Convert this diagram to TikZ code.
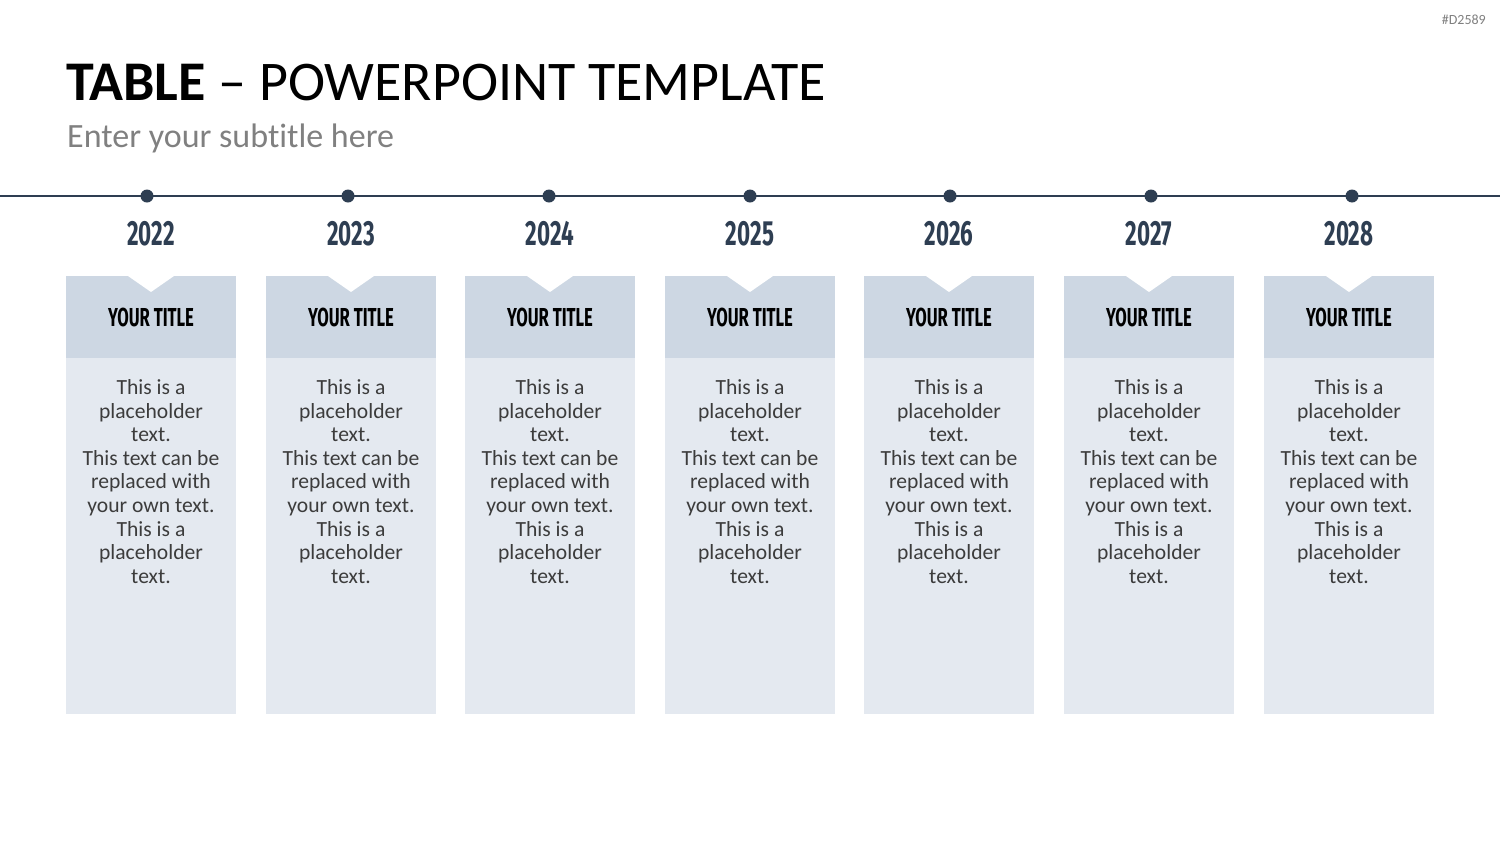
\documentclass[tikz,border=0pt]{standalone}
\usepackage{fontspec}
\setmainfont[Ligatures=NoCommon]{Carlito}
\newfontfamily\condfont[FakeStretch=0.64]{Fira Sans}
\usetikzlibrary{positioning}
\definecolor{slateNavy}{RGB}{46,62,82}
\definecolor{slateHead}{RGB}{205,215,227}
\definecolor{slateBody}{RGB}{228,233,240}
\definecolor{slateText}{RGB}{60,60,60}
\definecolor{slateGray}{RGB}{128,128,128}
\newcommand\bodytext{This is a\\placeholder\\text.\\This text can be\\replaced with\\your own text.\\This is a\\placeholder\\text.}

\begin{document}
\begin{tikzpicture}[
  x=1pt, y=-1pt,
  every node/.style={inner sep=0pt},
  timeline/.style={line width=1.5pt, draw=slateNavy},
  dot/.style={circle, fill=slateNavy, minimum size=13pt},
  yearlbl/.style={font=\condfont\bfseries\fontsize{35}{40}\selectfont, text=slateNavy},
  headbox/.style={fill=slateHead, minimum width=170pt, minimum height=82pt,
    font=\condfont\bfseries\fontsize{26}{30}\selectfont, text=black,
    path picture={\fill[white] ([xshift=-23pt]path picture bounding box.north)
      -- ([xshift=23pt]path picture bounding box.north)
      -- ([yshift=-16pt]path picture bounding box.north) -- cycle;}},
  bodybox/.style={fill=slateBody, minimum width=170pt, minimum height=356pt},
  bodytxt/.style={align=center, text=slateText, font=\fontsize{21.6}{23.6}\selectfont}
]
\fill[white] (0,0) rectangle (1500,844);
\useasboundingbox (0,0) rectangle (1500,844);

% - heading -
\node[anchor=base west, font=\fontsize{56}{66}\selectfont] (title) at (66,100) {\textbf{TABLE} – POWERPOINT TEMPLATE};
\node[anchor=base west, font=\fontsize{34}{40}\selectfont, text=slateGray] (subtitle) at (67,147) {Enter your subtitle here};
\node[anchor=base east, font=\fontsize{14}{16}\selectfont, text=slateGray] (tag) at (1486,24) {\#D2589};

% - timeline -
\coordinate (tlL) at (0,196);
\coordinate (tlR) at (1500,196);
\draw[timeline] (tlL) -- (tlR);

% - 2022 -
\node[dot] (dot22) at (147,196) {};
\node[headbox] (head22) at (151,317) {YOUR TITLE};
\node[yearlbl, above=30pt of head22] (year22) {2022};
\node[bodybox, below=0pt of head22] (body22) {};
\node[bodytxt, below=21pt of head22] (txt22) {\bodytext};

% - 2023 -
\node[dot] (dot23) at (348,196) {};
\node[headbox] (head23) at (351,317) {YOUR TITLE};
\node[yearlbl, above=30pt of head23] (year23) {2023};
\node[bodybox, below=0pt of head23] (body23) {};
\node[bodytxt, below=21pt of head23] (txt23) {\bodytext};

% - 2024 -
\node[dot] (dot24) at (549,196) {};
\node[headbox] (head24) at (550,317) {YOUR TITLE};
\node[yearlbl, above=30pt of head24] (year24) {2024};
\node[bodybox, below=0pt of head24] (body24) {};
\node[bodytxt, below=21pt of head24] (txt24) {\bodytext};

% - 2025 -
\node[dot] (dot25) at (750,196) {};
\node[headbox] (head25) at (750,317) {YOUR TITLE};
\node[yearlbl, above=30pt of head25] (year25) {2025};
\node[bodybox, below=0pt of head25] (body25) {};
\node[bodytxt, below=21pt of head25] (txt25) {\bodytext};

% - 2026 -
\node[dot] (dot26) at (950,196) {};
\node[headbox] (head26) at (949,317) {YOUR TITLE};
\node[yearlbl, above=30pt of head26] (year26) {2026};
\node[bodybox, below=0pt of head26] (body26) {};
\node[bodytxt, below=21pt of head26] (txt26) {\bodytext};

% - 2027 -
\node[dot] (dot27) at (1151,196) {};
\node[headbox] (head27) at (1149,317) {YOUR TITLE};
\node[yearlbl, above=30pt of head27] (year27) {2027};
\node[bodybox, below=0pt of head27] (body27) {};
\node[bodytxt, below=21pt of head27] (txt27) {\bodytext};

% - 2028 -
\node[dot] (dot28) at (1352,196) {};
\node[headbox] (head28) at (1349,317) {YOUR TITLE};
\node[yearlbl, above=30pt of head28] (year28) {2028};
\node[bodybox, below=0pt of head28] (body28) {};
\node[bodytxt, below=21pt of head28] (txt28) {\bodytext};

\end{tikzpicture}
\end{document}
